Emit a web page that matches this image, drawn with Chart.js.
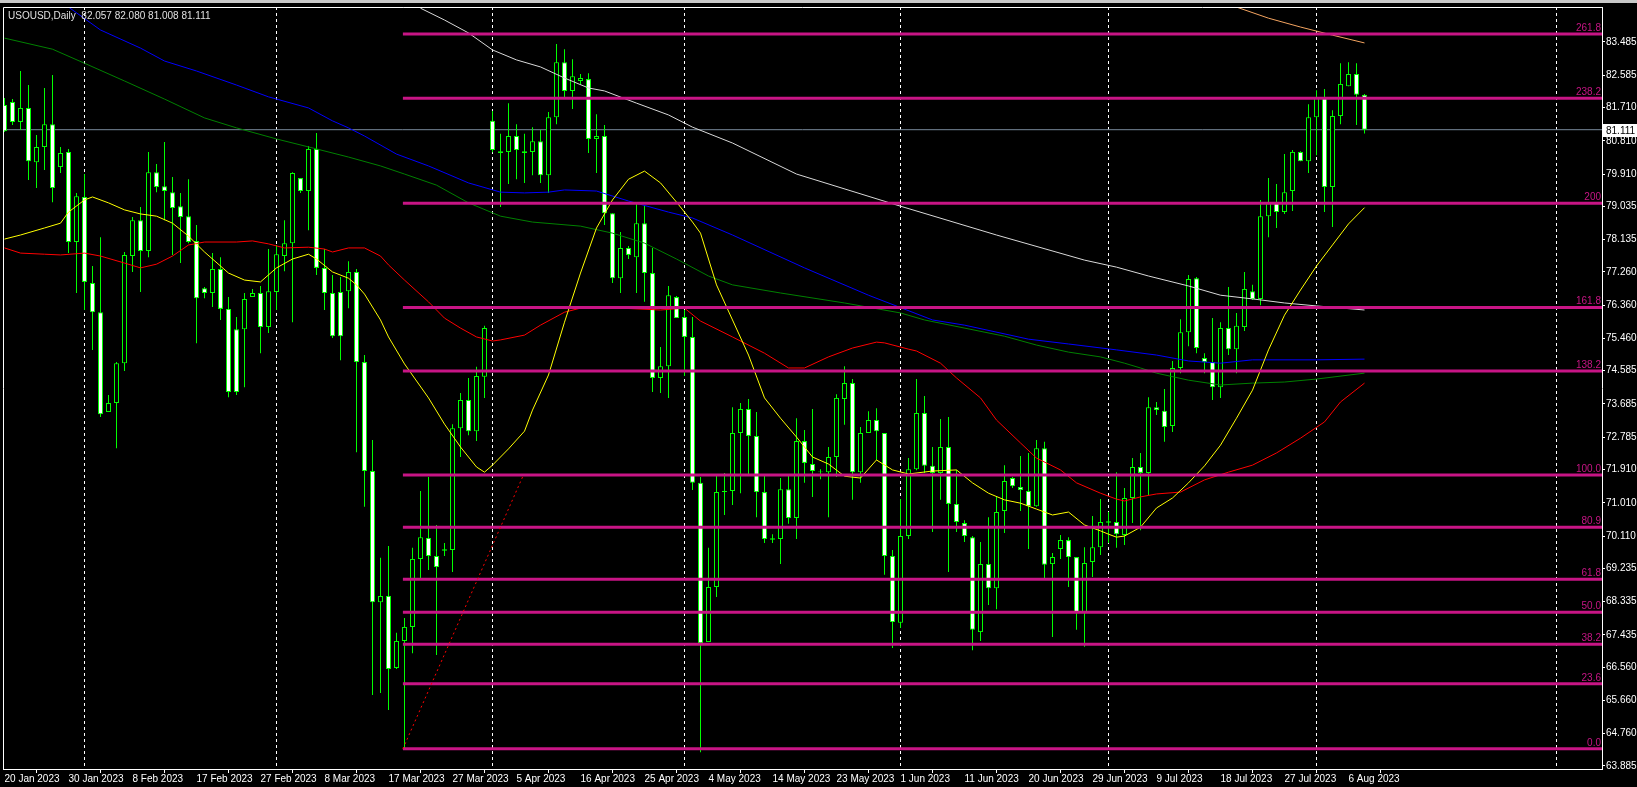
<!DOCTYPE html>
<html>
<head>
<meta charset="utf-8">
<title>USOUSD,Daily</title>
<script src="https://cdn.jsdelivr.net/npm/chart.js@4.4.0/dist/chart.umd.min.js"></script>
<style>
html, body { margin: 0; padding: 0; background: #000; overflow: hidden; }
#wrap { width: 1637px; height: 787px; }
</style>
</head>
<body>
<div id="wrap"><canvas id="myChart" width="1637" height="787"></canvas></div>
<script>
// daily bars, index 0 = 20 Jan 2023 (MT4 feed has Sunday bars)
const opens = [
    81.78, 81.86, 81.32, 81.70, 80.23, 80.64, 81.26, 80.10, 80.51, 78.07,
    79.29, 76.96, 76.17, 73.47, 73.71, 74.79, 77.69, 78.66, 77.83, 79.96,
    79.58, 79.42, 79.04, 78.77, 78.10, 76.82, 76.69, 77.34, 76.26, 75.71,
    75.71, 76.58, 76.69, 75.77, 76.72, 77.69, 78.04, 79.80, 79.45, 80.59,
    77.37, 76.69, 76.72, 76.74, 77.26, 74.82, 71.87, 68.32, 68.49, 66.54,
    67.27, 67.65, 69.49, 70.06, 69.57, 69.75, 69.73, 73.03, 73.79, 72.95,
    74.42, 81.35, 80.53, 80.51, 80.94, 80.53, 80.51, 80.80, 79.88, 81.45,
    82.94, 82.16, 82.43, 82.48, 80.86, 80.94, 78.85, 77.09, 77.91, 77.66,
    78.58, 77.23, 74.39, 74.71, 76.58, 76.04, 75.50, 71.55, 67.24, 68.73,
    71.33, 71.33, 72.90, 73.55, 72.82, 71.30, 70.05, 70.03, 71.38, 70.60,
    72.68, 72.06, 71.86, 71.84, 72.25, 73.82, 74.25, 71.84, 72.90, 73.25,
    72.90, 69.57, 67.76, 70.11, 71.92, 73.44, 72.01, 71.82, 72.52, 70.98,
    70.46, 70.08, 67.51, 69.35, 68.70, 70.79, 71.68, 71.44, 71.33, 70.92,
    72.49, 69.35, 69.76, 70.00, 69.54, 68.03, 69.41, 69.81, 70.47, 70.49,
    70.14, 71.14, 71.98, 71.82, 73.60, 73.50, 73.09, 74.66, 75.63, 77.09,
    74.93, 74.82, 74.14, 75.74, 75.17, 75.77, 76.74, 76.53, 78.77, 79.15,
    78.88, 79.45, 80.51, 80.26, 81.45, 81.99, 79.56, 81.48, 82.29, 82.62,
    82.057
];
const highs = [
    81.97, 81.94, 82.70, 82.32, 80.97, 82.24, 82.59, 80.64, 80.59, 79.40,
    79.91, 77.42, 78.20, 73.93, 74.82, 77.80, 78.75, 79.02, 80.51, 80.18,
    80.78, 79.83, 79.40, 79.77, 78.53, 76.85, 77.77, 77.66, 76.58, 76.04,
    76.69, 76.80, 76.88, 77.88, 77.99, 78.66, 79.96, 79.80, 80.67, 81.02,
    77.88, 77.18, 77.12, 77.55, 77.34, 75.01, 72.71, 69.52, 69.84, 67.49,
    67.89, 69.79, 71.33, 71.71, 70.41, 69.92, 73.14, 73.98, 74.39, 74.69,
    75.80, 81.62, 81.00, 81.83, 81.26, 81.00, 81.18, 81.10, 81.59, 83.43,
    83.29, 83.02, 82.62, 82.64, 81.53, 81.24, 78.85, 78.34, 77.96, 79.15,
    79.07, 77.91, 75.23, 76.88, 76.61, 76.23, 76.04, 71.71, 69.79, 71.76,
    71.82, 73.60, 73.71, 73.82, 73.47, 71.76, 70.16, 71.68, 71.76, 73.30,
    72.98, 73.55, 71.92, 72.52, 73.95, 74.71, 74.36, 73.06, 73.49, 73.57,
    72.90, 69.73, 71.11, 72.22, 74.36, 73.90, 72.52, 73.28, 73.33, 71.90,
    70.54, 70.11, 69.95, 70.62, 71.17, 72.03, 71.71, 72.28, 72.36, 72.71,
    72.66, 69.65, 70.14, 70.08, 69.54, 69.81, 70.65, 71.11, 70.76, 71.84,
    71.41, 72.22, 72.36, 73.87, 73.74, 74.09, 74.85, 75.98, 77.18, 77.12,
    75.06, 76.01, 75.90, 76.85, 76.15, 77.26, 76.91, 79.21, 79.80, 79.64,
    80.45, 80.56, 80.53, 81.80, 82.18, 82.21, 81.64, 82.91, 82.94, 82.91,
    82.080
];
const lows = [
    81.05, 81.24, 81.10, 79.75, 79.53, 80.02, 79.15, 79.94, 77.77, 76.69,
    76.23, 75.15, 73.33, 73.47, 72.49, 74.58, 77.26, 76.72, 77.66, 79.42,
    78.66, 77.72, 77.50, 78.04, 75.33, 76.55, 76.31, 75.96, 73.87, 73.93,
    74.14, 76.58, 75.06, 75.61, 76.23, 77.28, 75.90, 79.40, 78.39, 77.18,
    76.23, 75.47, 74.87, 76.28, 72.38, 70.90, 65.81, 65.86, 65.40, 66.51,
    64.35, 66.94, 68.92, 69.19, 66.89, 69.57, 69.14, 72.25, 72.84, 72.68,
    73.85, 80.50, 79.02, 79.64, 79.77, 79.67, 79.88, 79.67, 79.40, 81.26,
    81.99, 81.67, 82.35, 80.48, 79.94, 78.53, 76.96, 76.69, 77.61, 76.69,
    76.45, 74.01, 73.98, 73.85, 76.01, 74.44, 71.36, 64.26, 67.24, 68.46,
    70.68, 70.95, 71.27, 71.76, 70.62, 69.92, 69.92, 69.35, 70.44, 70.03,
    71.55, 71.17, 71.65, 70.62, 71.71, 73.12, 71.09, 71.55, 72.90, 72.17,
    69.06, 67.08, 67.62, 70.03, 71.89, 71.82, 70.22, 71.09, 69.14, 70.22,
    69.95, 67.02, 67.27, 68.24, 68.13, 70.19, 71.41, 70.79, 69.76, 70.90,
    68.97, 67.38, 69.49, 68.73, 67.57, 67.11, 69.00, 69.60, 69.92, 69.79,
    69.87, 70.46, 70.27, 71.22, 73.39, 72.66, 72.93, 74.52, 75.25, 75.06,
    74.52, 73.79, 73.85, 75.01, 74.52, 75.66, 76.50, 76.36, 78.20, 78.45,
    78.83, 78.91, 80.26, 79.94, 80.42, 78.88, 78.48, 81.26, 82.29, 81.24,
    81.008
];
const closes = [
    81.07, 81.32, 81.70, 80.26, 80.64, 81.26, 79.53, 80.48, 78.07, 79.31,
    76.99, 76.17, 73.41, 73.71, 74.79, 77.72, 78.66, 77.83, 79.96, 79.56,
    79.45, 78.99, 78.75, 78.07, 76.55, 76.69, 77.34, 76.26, 74.01, 74.01,
    76.53, 76.69, 75.77, 76.74, 77.74, 78.04, 79.94, 79.45, 80.59, 77.37,
    76.69, 75.52, 75.52, 77.26, 74.82, 71.87, 68.32, 68.49, 66.51, 67.27,
    67.65, 69.49, 70.08, 69.57, 69.27, 69.71, 73.03, 73.79, 72.95, 74.44,
    75.74, 80.56, 80.48, 80.94, 80.56, 80.48, 80.80, 79.88, 81.45, 82.94,
    82.16, 82.56, 82.51, 80.86, 80.94, 78.85, 77.09, 77.91, 77.72, 78.58,
    77.23, 74.39, 74.71, 76.63, 76.01, 75.50, 71.55, 67.21, 68.73, 71.30,
    71.30, 72.90, 73.55, 72.82, 71.30, 70.03, 70.01, 71.38, 70.60, 72.68,
    72.09, 71.87, 71.84, 72.25, 73.85, 74.25, 71.84, 72.90, 73.25, 72.95,
    69.57, 67.78, 70.11, 71.92, 73.44, 72.01, 71.82, 72.52, 70.98, 70.49,
    70.11, 67.57, 69.35, 68.70, 70.76, 71.60, 71.46, 71.36, 70.92, 72.49,
    69.33, 69.54, 70.00, 69.54, 68.03, 69.38, 69.81, 70.49, 70.51, 70.16,
    71.14, 71.98, 71.82, 73.60, 73.52, 73.06, 74.66, 75.63, 77.07, 75.20,
    74.82, 74.14, 75.74, 75.17, 75.80, 76.80, 76.53, 78.77, 79.15, 78.88,
    79.42, 80.51, 80.26, 81.45, 81.99, 79.56, 81.48, 82.35, 82.62, 82.06,
    81.111
];

// bottom axis
const dateBars = [0, 8, 16, 24, 32, 40, 48, 56, 64, 72, 80, 88, 96, 104, 112, 120, 128, 136, 144, 152, 160, 168];
const dateLabels = ["20 Jan 2023", "30 Jan 2023", "8 Feb 2023", "17 Feb 2023", "27 Feb 2023", "8 Mar 2023",
    "17 Mar 2023", "27 Mar 2023", "5 Apr 2023", "16 Apr 2023", "25 Apr 2023", "4 May 2023", "14 May 2023",
    "23 May 2023", "1 Jun 2023", "11 Jun 2023", "20 Jun 2023", "29 Jun 2023", "9 Jul 2023", "18 Jul 2023",
    "27 Jul 2023", "6 Aug 2023"];
const monthBars = [10, 34, 61, 85, 112, 138, 164, 194];

// right axis
const priceTicks = [83.485, 82.585, 81.710, 80.810, 79.910, 79.035, 78.135, 77.260, 76.360, 75.460, 74.585,
    73.685, 72.785, 71.910, 71.010, 70.110, 69.235, 68.335, 67.435, 66.560, 65.660, 64.760, 63.885];

// moving averages
const yellowBars = [0, 2, 5, 7, 8, 10, 11, 13, 15, 17, 19, 21, 23, 25, 28, 30, 32, 34, 36, 38, 39, 41, 43, 44, 45,
    47, 48, 50, 53, 55, 57, 59, 60, 61, 63, 65, 66, 68, 70, 72, 74, 76, 78, 80, 82, 84, 86, 87, 89, 91, 93, 95,
    97, 99, 101, 103, 105, 107, 109, 111, 113, 116, 119, 121, 123, 125, 127, 129, 131, 133, 135, 137, 138, 139,
    140, 142, 144, 146, 148, 150, 152, 154, 156, 158, 160, 162, 164, 166, 168, 170];
const yellowVals = [78.15, 78.26, 78.45, 78.58, 78.88, 79.21, 79.29, 79.13, 78.94, 78.83, 78.77, 78.58, 78.23,
    77.80, 77.23, 77.04, 76.99, 77.37, 77.61, 77.74, 77.61, 77.26, 77.09, 76.91, 76.66, 75.96, 75.50, 74.77,
    73.85, 73.14, 72.52, 71.98, 71.84, 72.03, 72.47, 72.95, 73.52, 74.47, 75.90, 77.23, 78.45, 79.21, 79.77,
    79.99, 79.67, 79.15, 78.61, 78.31, 76.91, 75.96, 75.01, 73.85, 73.30, 72.79, 72.25, 72.06, 71.73, 71.68,
    72.17, 71.90, 71.79, 71.87, 71.90, 71.55, 71.27, 71.09, 71.00, 70.84, 70.68, 70.76, 70.41, 70.25, 70.16,
    70.08, 70.11, 70.35, 70.87, 71.14, 71.55, 72.01, 72.57, 73.30, 74.06, 75.15, 76.09, 76.77, 77.42, 77.99,
    78.56, 79.00];
const redBars = [0, 2, 5, 7, 10, 12, 15, 17, 19, 21, 23, 25, 29, 31, 33, 35, 38, 40, 41, 43, 45, 47, 48, 50, 53,
    55, 57, 59, 61, 62, 65, 67, 70, 72, 74, 77, 82, 85, 87, 91, 95, 98, 100, 103, 106, 109, 110, 113, 114, 117,
    119, 122, 124, 127, 129, 132, 134, 137, 139, 140, 142, 144, 147, 150, 153, 156, 159, 162, 165, 167, 170];
const redVals = [77.91, 77.77, 77.74, 77.72, 77.77, 77.69, 77.50, 77.37, 77.47, 77.69, 77.99, 78.07, 78.07,
    78.10, 78.02, 77.91, 77.93, 77.88, 77.80, 77.91, 77.91, 77.69, 77.45, 77.04, 76.45, 76.01, 75.74, 75.50,
    75.39, 75.42, 75.55, 75.82, 76.17, 76.28, 76.31, 76.28, 76.23, 76.28, 75.93, 75.50, 75.06, 74.66, 74.66,
    74.96, 75.20, 75.36, 75.34, 75.17, 75.12, 74.79, 74.39, 73.85, 73.25, 72.63, 72.22, 71.90, 71.55, 71.27,
    71.11, 71.06, 71.17, 71.25, 71.30, 71.63, 71.84, 72.03, 72.36, 72.76, 73.20, 73.74, 74.25];
const greenBars = [0, 6, 10, 15, 20, 25, 29, 34, 39, 43, 47, 50, 54, 58, 62, 66, 72, 76, 80, 84, 88, 91, 97, 105,
    112, 115, 125, 129, 133, 137, 140, 142, 144, 148, 152, 156, 160, 164, 170];
const greenVals = [83.59, 83.29, 82.91, 82.43, 81.94, 81.43, 81.16, 80.86, 80.59, 80.37, 80.13, 79.91, 79.61,
    79.13, 78.77, 78.61, 78.50, 78.31, 78.04, 77.61, 77.15, 76.91, 76.69, 76.42, 76.15, 75.96, 75.52, 75.28,
    75.09, 74.96, 74.79, 74.66, 74.52, 74.33, 74.20, 74.25, 74.28, 74.36, 74.52];
const blueBars = [8, 12, 17, 20, 24, 29, 33, 38, 41, 43, 45, 49, 53, 58, 62, 65, 68, 70, 74, 78, 83, 86, 91, 100,
    108, 116, 120, 128, 133, 139, 144, 148, 152, 156, 164, 170];
const blueVals = [84.43, 83.81, 83.32, 82.97, 82.70, 82.32, 82.00, 81.70, 81.35, 81.16, 80.94, 80.45, 80.13,
    79.67, 79.42, 79.40, 79.42, 79.48, 79.45, 79.18, 78.88, 78.72, 78.26, 77.37, 76.63, 75.96, 75.82, 75.44,
    75.31, 75.15, 75.01, 74.85, 74.79, 74.88, 74.88, 74.90];
const whiteBars = [52, 55, 58, 61, 64, 67, 70, 73, 75, 79, 83, 86, 91, 99, 112, 124, 135, 139, 143, 148, 152, 156,
    160, 164, 170];
const whiteVals = [84.40, 84.08, 83.73, 83.27, 83.00, 82.81, 82.51, 82.24, 82.16, 81.83, 81.51, 81.18, 80.75,
    79.91, 79.04, 78.26, 77.58, 77.39, 77.15, 76.88, 76.63, 76.53, 76.42, 76.34, 76.23];
const orangeBars = [154, 158, 162, 166, 170];
const orangeVals = [84.43, 84.13, 83.89, 83.67, 83.46];

// fibonacci object
const fibLevels = ["261.8", "238.2", "200", "161.8", "138.2", "100.0", "80.9", "61.8", "50.0", "38.2", "23.6", "0.0"];
const fibPrices = [83.70, 81.96, 79.12, 76.30, 74.58, 71.76, 70.35, 68.94, 68.05, 67.18, 66.11, 64.35];
const fibFrom = [49.8, 64.35];
const fibTo = [64.8, 71.73];

const X_MIN = -0.1875, X_MAX = 199.6875;
const FONT = "'Liberation Sans', Arial, sans-serif";
const LIME = "#00ff00";

function lineSet(bars, vals, color, order) {
    return {
        type: "line",
        data: bars.map((b, k) => ({ x: b, y: vals[k] })),
        borderColor: color,
        borderWidth: 1,
        pointRadius: 0,
        tension: 0,
        order: order,
    };
}

var idx = opens.map((o, i) => i);
var datasets = [];

// candles
datasets.push({
    type: "bar",
    data: idx.map(i => ({ x: i, y: [lows[i], highs[i]] })),
    backgroundColor: LIME,
    barThickness: 1,
    grouped: false,
    inflateAmount: 0,
    order: 8,
});
datasets.push({
    type: "bar",
    data: idx.map(i => ({ x: i, y: [opens[i], closes[i]] })),
    backgroundColor: idx.map(i => closes[i] < opens[i] ? "#ffffff" : "#000000"),
    borderColor: LIME,
    borderWidth: 1,
    borderSkipped: false,
    barThickness: 5,
    grouped: false,
    inflateAmount: 0,
    order: 7,
});

// bid line
datasets.push({
    type: "line",
    data: [{ x: X_MIN, y: closes[closes.length - 1] }, { x: X_MAX, y: closes[closes.length - 1] }],
    borderColor: "#778899",
    borderWidth: 1,
    pointRadius: 0,
    order: 9,
});

datasets.push(lineSet(yellowBars, yellowVals, "#ffff00", 3));
datasets.push(lineSet(redBars, redVals, "#ff0000", 3));
datasets.push(lineSet(greenBars, greenVals, "#008000", 3));
datasets.push(lineSet(blueBars, blueVals, "#0000ff", 3));
datasets.push(lineSet(whiteBars, whiteVals, "#d8d8d8", 3));
datasets.push(lineSet(orangeBars, orangeVals, "#f4a460", 3));

// fibo levels on top
for (let k = 0; k < fibPrices.length; k++) {
    datasets.push({
        type: "line",
        data: [{ x: fibFrom[0], y: fibPrices[k] }, { x: X_MAX, y: fibPrices[k] }],
        borderColor: "#c71585",
        borderWidth: 3,
        pointRadius: 0,
        order: 1,
    });
}
datasets.push({
    type: "line",
    data: [{ x: fibFrom[0], y: fibFrom[1] }, { x: fibTo[0], y: fibTo[1] }],
    borderColor: "#ff0000",
    borderWidth: 1,
    borderDash: [2, 3],
    pointRadius: 0,
    order: 0,
});

const mtPlugin = {
    id: "mtLook",
    beforeDraw(chart) {
        var c = chart.ctx;
        c.save();
        c.fillStyle = "#000";
        c.fillRect(0, 0, chart.width, chart.height);
        c.fillStyle = "#c8c8c8";
        c.fillRect(0, 0, chart.width, 3);
        c.restore();
    },
    beforeDatasetsDraw(chart) {
        var c = chart.ctx, a = chart.chartArea, sx = chart.scales.x;
        c.save();
        c.strokeStyle = "#ffffff";
        c.lineWidth = 1;
        c.setLineDash([3, 3]);
        for (var b of monthBars) {
            var px = Math.floor(sx.getPixelForValue(b)) + 0.5;
            c.beginPath();
            c.moveTo(px, a.top);
            c.lineTo(px, a.bottom);
            c.stroke();
        }
        c.restore();
    },
    afterDatasetsDraw(chart) {
        var c = chart.ctx, a = chart.chartArea, sy = chart.scales.y;
        c.save();
        // fibo texts
        c.font = "10px " + FONT;
        c.fillStyle = "#c71585";
        c.textAlign = "right";
        c.textBaseline = "bottom";
        for (var k = 0; k < fibLevels.length; k++) {
            c.fillText(fibLevels[k], a.right - 1, sy.getPixelForValue(fibPrices[k]) - 1);
        }
        // frame (top and left)
        c.strokeStyle = "#ffffff";
        c.lineWidth = 1;
        c.beginPath();
        c.moveTo(a.left + 0.5, a.bottom);
        c.lineTo(a.left + 0.5, a.top + 0.5);
        c.lineTo(a.right, a.top + 0.5);
        c.stroke();
        // bid label
        var last = closes[closes.length - 1];
        var py = Math.round(sy.getPixelForValue(last));
        c.fillStyle = "#ffffff";
        c.fillRect(a.right + 1, py - 6, chart.width - a.right - 1, 13);
        c.fillStyle = "#000000";
        c.textAlign = "left";
        c.textBaseline = "middle";
        c.fillText(last.toFixed(3), a.right + 4, py + 1);
        // title
        c.fillStyle = "#e0e0e0";
        c.fillText("USOUSD,Daily  " + opens[opens.length - 1].toFixed(3) + " " + highs[highs.length - 1].toFixed(3) +
            " " + lows[lows.length - 1].toFixed(3) + " " + closes[closes.length - 1].toFixed(3), a.left + 5, a.top + 9);
        c.restore();
    },
};

var ctx = document.getElementById("myChart").getContext("2d");
var lienzo = new Chart(ctx, {
    type: "bar",
    data: { datasets: datasets },
    options: {
        responsive: false,
        animation: false,
        layout: { padding: { left: 3, top: 7, right: 0, bottom: 0 } },
        plugins: {
            legend: { display: false },
            tooltip: { enabled: false },
        },
        scales: {
            x: {
                type: "linear",
                position: "bottom",
                min: X_MIN,
                max: X_MAX,
                offset: false,
                afterBuildTicks: function (s) {
                    s.ticks = dateBars.map(v => ({ value: v }));
                },
                afterFit: function (s) {
                    s.height = 18;
                },
                ticks: {
                    autoSkip: false,
                    maxRotation: 0,
                    minRotation: 0,
                    align: "start",
                    padding: 0,
                    color: "#ffffff",
                    font: { family: FONT, size: 10 },
                    callback: function (v, i) {
                        return dateLabels[i];
                    },
                },
                grid: { drawOnChartArea: false, drawTicks: true, tickLength: 4, color: "#ffffff" },
                border: { display: true, color: "#ffffff" },
            },
            y: {
                type: "linear",
                position: "right",
                min: 63.8035,
                max: 84.4325,
                afterBuildTicks: function (s) {
                    s.ticks = priceTicks.map(v => ({ value: v }));
                },
                afterFit: function (s) {
                    s.width = 35;
                },
                ticks: {
                    autoSkip: false,
                    padding: 1,
                    color: "#ffffff",
                    font: { family: FONT, size: 10 },
                    callback: function (v) {
                        return v.toFixed(3);
                    },
                },
                grid: { drawOnChartArea: false, drawTicks: true, tickLength: 3, color: "#ffffff" },
                border: { display: true, color: "#ffffff" },
            },
        },
    },
    plugins: [mtPlugin],
});
</script>
</body>
</html>
